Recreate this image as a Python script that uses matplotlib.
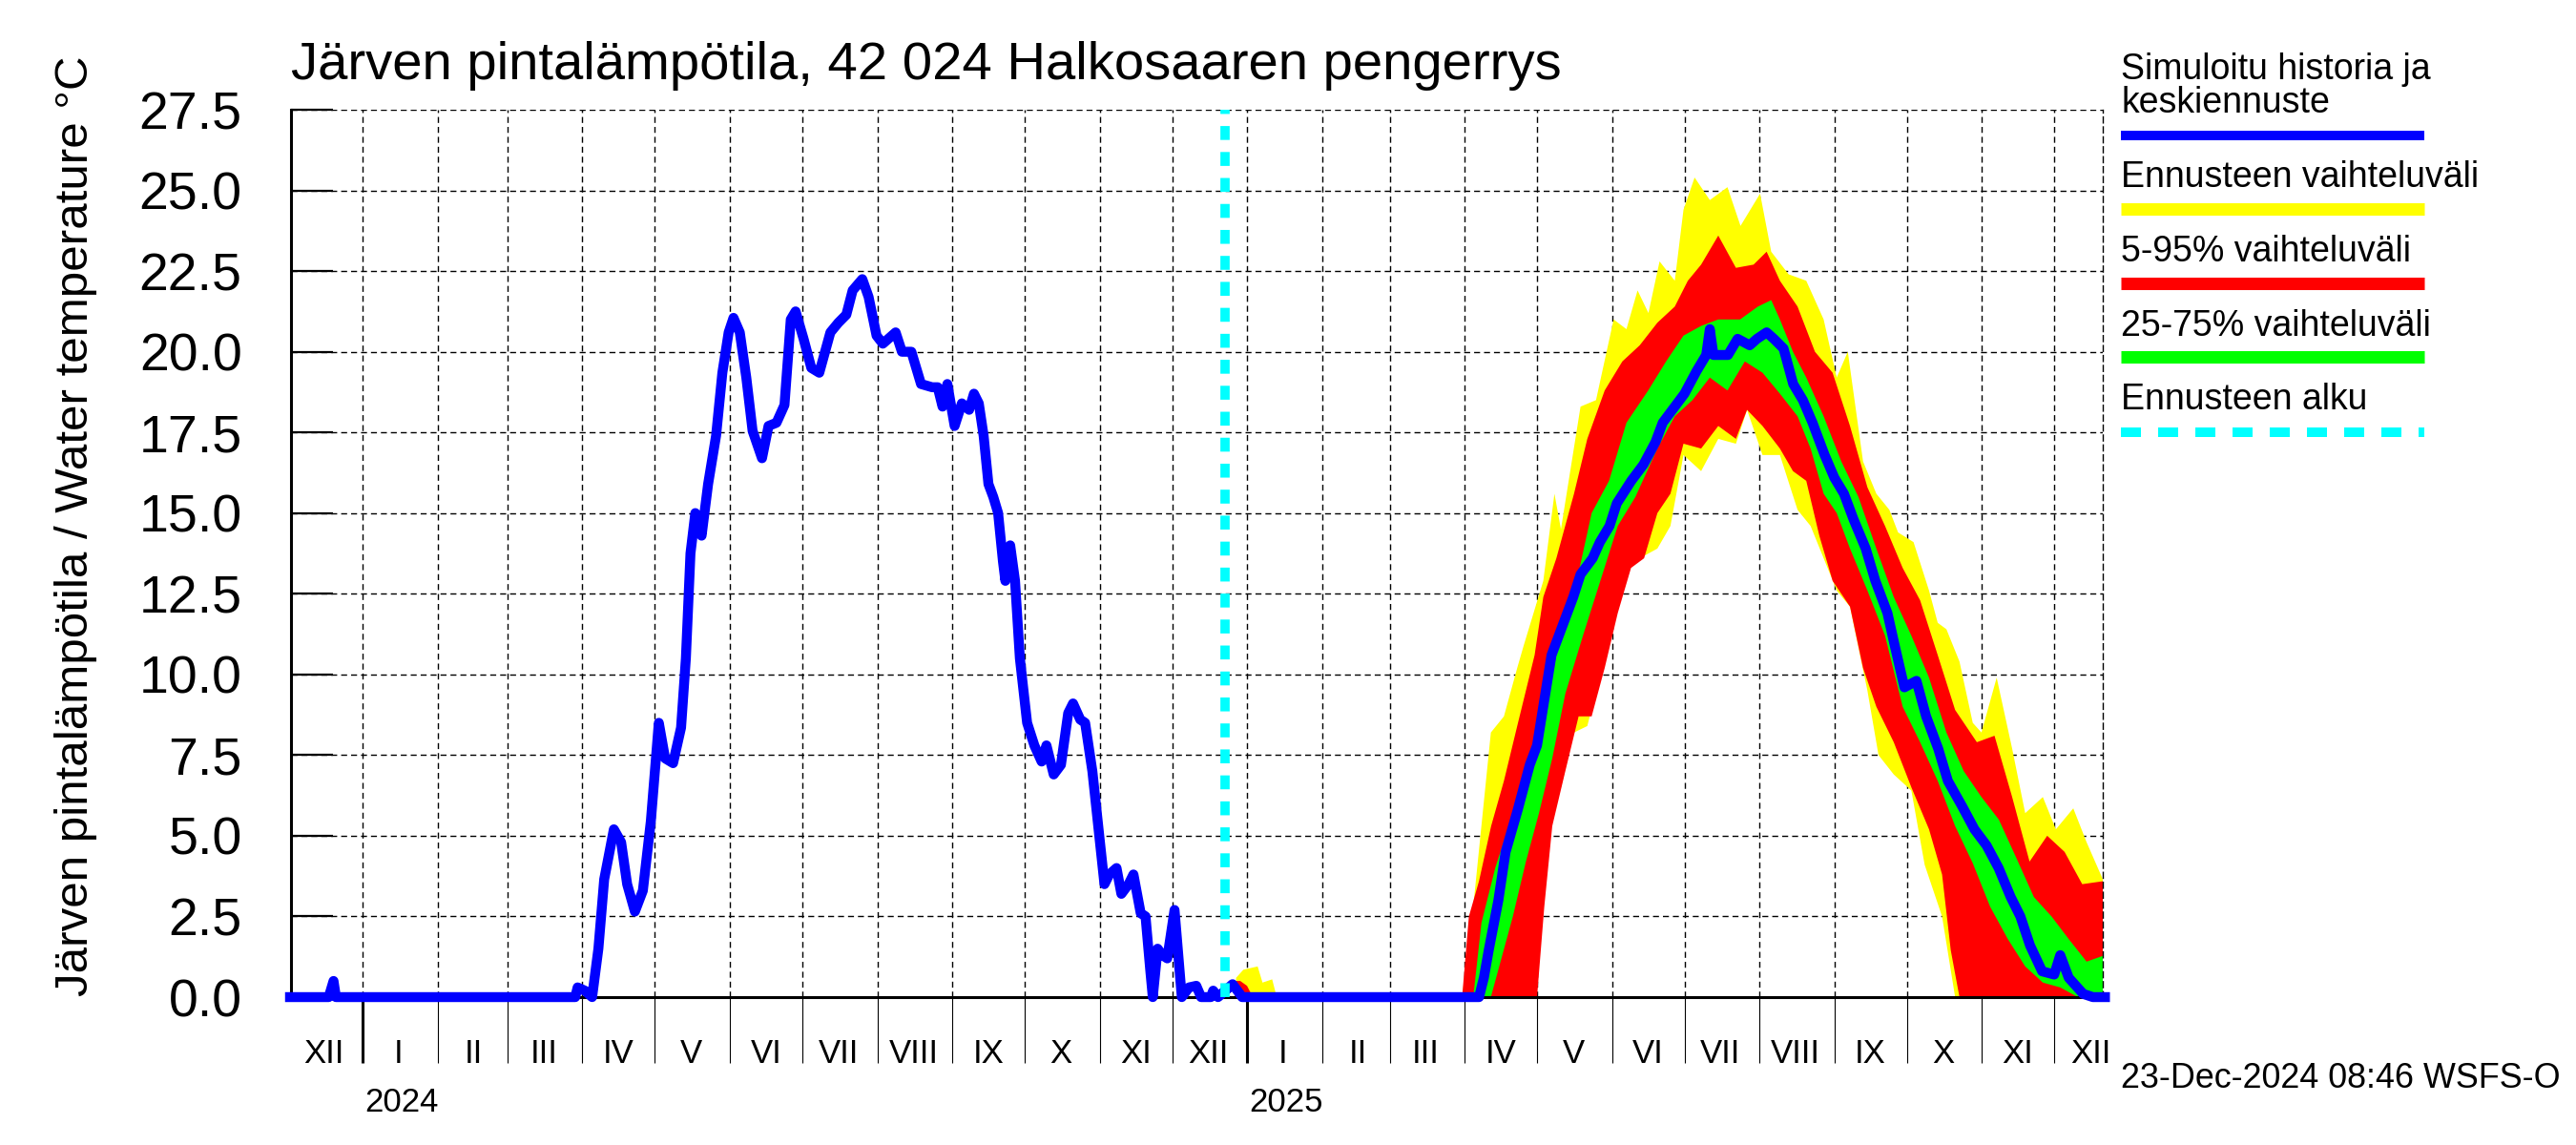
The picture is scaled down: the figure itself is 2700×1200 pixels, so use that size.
import numpy as np
import matplotlib
matplotlib.use("Agg")
import matplotlib.pyplot as plt
from matplotlib.lines import Line2D
from matplotlib.ticker import FormatStrFormatter

plt.rcParams['font.family'] = ['Liberation Sans', 'DejaVu Sans']

# simulated history, days since 2024-01-01
hist_day = [-30, -14, -12, -11, 88, 89, 92, 95, 97.6, 100, 104, 107, 109.5, 112.7, 116, 119.3,
            122.6, 125.2, 128.5, 131.8, 133.8, 135.7, 137.7, 140.3, 143, 146.3, 148.9, 151.5, 153.5,
            156.1, 158.8, 161.4, 165.3, 168, 171.3, 174.6, 177.2, 179.2, 182.5, 185.7, 189, 193.6,
            196.9, 200.2, 202.8, 206.8, 209.4, 212.7, 215.3, 220.6, 223.2, 227.1, 231.1, 235.7,
            238, 240, 242, 245, 248, 251, 253, 255, 257, 259, 261, 263, 265, 266, 268, 270,
            272, 275, 278, 281, 283, 286, 289, 292, 294, 297, 299, 302, 305, 307, 309, 312, 314,
            317, 319, 322, 324, 326, 327, 329, 331, 333, 336, 339, 342, 345, 347, 351, 352, 354,
            357]
hist_val = [0, 0, 0.5, 0, 0, 0.3, 0.2, 0, 1.5, 3.65, 5.2, 4.8, 3.5, 2.65, 3.3, 5.45,
            8.5, 7.4, 7.25, 8.35, 10.5, 13.75, 15.0, 14.3, 15.9, 17.4, 19.35, 20.6, 21.05,
            20.6, 19.2, 17.55, 16.7, 17.7, 17.8, 18.35, 21.0, 21.25, 20.4, 19.5, 19.35, 20.6,
            20.9, 21.15, 21.9, 22.25, 21.7, 20.5, 20.25, 20.6, 20.0, 20.0, 19.0, 18.9,
            18.9, 18.3, 19.0, 17.7, 18.4, 18.2, 18.7, 18.4, 17.4, 15.9, 15.5, 15.0, 13.5, 12.9, 14.0, 12.9,
            10.5, 8.5, 7.8, 7.3, 7.8, 6.9, 7.2, 8.8, 9.1, 8.6, 8.5, 7.0, 4.9, 3.5, 3.8, 4.0, 3.2,
            3.5, 3.8, 2.6, 2.5, 0.8, 0, 1.5, 1.3, 1.2, 2.7, 0, 0.3, 0.35, 0, 0, 0.2, 0,
            0.2]

# forecast median, days since 2025-01-01
fc_day = [-9, -6, -4, -2, 96, 98, 100, 104, 107, 112, 117, 120, 123, 126, 131, 135, 138, 143, 146,
          150, 153, 159, 164, 169, 172, 177, 181, 186, 190, 191.5, 193, 199, 203, 208, 211, 215, 218,
          222, 226, 230, 234, 239, 243, 247, 251, 256, 260, 265, 268, 272, 277, 281, 286, 290, 296,
          301, 306, 311, 316, 320, 324, 329, 334, 336.5, 340, 346, 350, 355]
fc_mid = [0.2, 0.4, 0.2, 0, 0, 0.6, 1.45, 3.0, 4.5, 5.8, 7.2, 7.8, 9.2, 10.6, 11.6, 12.4, 13.1, 13.6, 14.1,
          14.6, 15.3, 16.0, 16.5, 17.2, 17.8, 18.3, 18.7, 19.4, 19.9, 20.7, 19.9, 19.9, 20.4, 20.2, 20.4, 20.6, 20.4,
          20.1, 19.0, 18.5, 17.8, 16.8, 16.1, 15.6, 14.8, 13.9, 12.9, 11.9, 10.9, 9.6, 9.8, 8.7, 7.7, 6.7, 5.9,
          5.2, 4.7, 4.0, 3.1, 2.5, 1.6, 0.8, 0.7, 1.3, 0.6, 0.1, 0, 0]

# full forecast range (yellow)
yel_up_day = [-5, -4.5, -1.5, 4.4, 6.4, 10.4, 12.3, 89, 93.6, 100.9, 106.3, 111.8, 114.5, 122.6, 127.2,
              129.9, 138, 144.4, 151.7, 157, 161.6, 166.1, 170.7, 177, 180.6, 185.2, 191.5, 198.8, 204.2,
              212.3, 216.9, 224.1, 231.4, 238.6, 244, 248.6, 254.9, 260.4, 265.8, 269.4, 275.8, 282.2,
              285.8, 289.4, 294.8, 300.3, 303.9, 310.2, 316.6, 322, 329.3, 334.7, 341.9, 347.4, 355]
yel_up_val = [0, 0.6, 0.85, 0.95, 0.45, 0.55, 0, 0, 2.8, 8.2, 8.7, 10.2, 10.9, 12.9, 15.6,
              14.5, 18.3, 18.5, 21.0, 20.7, 21.9, 21.2, 22.8, 22.2, 24.4, 25.4, 24.7, 25.1, 23.9,
              24.9, 23.1, 22.4, 22.2, 21.0, 19.2, 20.0, 16.6, 15.6, 15.1, 14.4, 14.1, 12.6,
              11.6, 11.4, 10.4, 8.5, 8.2, 9.9, 7.7, 5.7, 6.2, 5.2, 5.85, 4.8, 3.5]
yel_lo_day = [-5, 119, 122, 126.3, 129.9, 135.3, 140.8, 146.2, 155.3, 162.5, 169.8, 175.2, 180.6, 187.9,
              195, 202.3, 206.9, 213.3, 220.5, 227.8, 233.2, 238.6, 244, 249.5, 256.7, 261.3, 267.6,
              274.9, 280.4, 287.6, 293, 355]
yel_lo_val = [0, 0, 2.8, 6.2, 6.5, 8.2, 8.4, 10.0, 13.3, 13.6, 13.9, 14.6, 16.8, 16.3,
              17.3, 17.15, 18.2, 16.8, 16.8, 15.1, 14.6, 13.6, 12.6, 12.1, 9.5, 7.5, 6.9,
              6.4, 4.1, 2.5, 0, 0]

# 5-95 % range (red)
red_up_day = [-5, -4.5, -2.8, 0, 2.4, 89, 91.8, 96, 101, 106.3, 111.8, 119, 122.6, 128, 135.3, 140.8,
              148, 155.3, 162.5, 169.8, 177, 182.4, 187.9, 195, 202.3, 209.6, 215, 220.5, 227.8, 235,
              242.3, 249.5, 256.7, 264, 271.3, 278.5, 285.8, 293, 302, 309.3, 316.6, 323.8, 331.1,
              338.3, 345.6, 355]
red_up_val = [0, 0.5, 0.5, 0.35, 0, 0, 2.5, 3.6, 5.3, 6.7, 8.4, 10.6, 12.4, 13.6, 15.6, 17.3,
              18.8, 19.7, 20.2, 20.9, 21.4, 22.2, 22.7, 23.6, 22.6, 22.7, 23.1, 22.2, 21.4, 20.0,
              19.35, 17.7, 15.8, 14.6, 13.3, 12.3, 10.6, 8.9, 7.9, 8.1, 6.2, 4.2, 5.0,
              4.5, 3.5, 3.6]
red_lo_day = [-5, 120, 123, 126.3, 131.7, 137.2, 142.6, 148, 153.4, 158.9, 164.3, 169.8, 175.2, 180.6,
              187.9, 195, 202.3, 206.9, 213.3, 220.5, 225.9, 231.4, 236.8, 242.3, 249.5, 254.9, 260.4,
              267.6, 274.9, 282.2, 287.6, 291.2, 294.8, 355]
red_lo_val = [0, 0, 2.8, 5.3, 7.0, 8.7, 8.7, 10.2, 11.9, 13.3, 13.6, 15.0, 15.6, 17.15,
              17.0, 17.7, 17.3, 18.2, 17.7, 17.0, 16.3, 16.0, 14.3, 12.9, 12.1, 10.2, 9.0,
              7.9, 6.5, 5.2, 3.8, 1.45, 0, 0]

# 25-75 % range (green)
grn_up_day = [93.6, 97, 102.7, 110, 115.4, 122.6, 128, 133.5, 142.6, 149.8, 157, 166, 173.4, 180.6,
              187.9, 195, 204, 211.4, 216.9, 220.5, 225.9, 231.4, 238.6, 245.9, 253, 260.4, 267.6,
              274.9, 282.2, 289.4, 296.6, 303.9, 311.1, 318.4, 325.6, 332.9, 340, 347.4, 355]
grn_up_val = [0, 2.3, 4.0, 5.7, 6.85, 8.5, 10.6, 11.9, 15.0, 16.0, 17.8, 18.8, 19.7, 20.5,
              20.8, 21.0, 21.0, 21.4, 21.6, 21.0, 20.0, 19.2, 18.0, 16.6, 15.5, 13.9, 12.4,
              11.2, 9.9, 8.2, 7.0, 6.2, 5.5, 4.3, 3.1, 2.5, 1.8, 1.1, 1.3]
grn_lo_day = [93.6, 100.9, 110, 115.4, 120.8, 126.3, 131.7, 139, 146.2, 153.4, 160.7, 169.8, 177, 184.3,
              191.5, 198.8, 206, 213.3, 220.5, 227.8, 233.2, 238.6, 244, 249.5, 256.7, 264, 271.3,
              278.5, 285.8, 293, 300.3, 307.5, 314.8, 322, 329.3, 336.5, 343.8, 355]
grn_lo_val = [0, 0, 2.5, 4.2, 5.7, 7.4, 9.4, 11.2, 12.9, 14.6, 15.5, 17.0, 18.0, 18.5,
              19.2, 18.8, 19.7, 19.35, 18.7, 18.0, 17.0, 15.6, 15.0, 13.9, 12.6, 11.2, 9.0,
              7.9, 6.7, 5.3, 4.15, 2.8, 1.8, 0.95, 0.45, 0.3, 0, 0]

roman = ['I', 'II', 'III', 'IV', 'V', 'VI', 'VII', 'VIII', 'IX', 'X', 'XI', 'XII']
y_ticks = [0, 2.5, 5, 7.5, 10, 12.5, 15, 17.5, 20, 22.5, 25, 27.5]

base24 = np.datetime64('2024-01-01T00:00')
base25 = np.datetime64('2025-01-01T00:00')
forecast_start = np.datetime64('2024-12-23T00:00')
x_start = base24 - np.timedelta64(int(29.6 * 1440), 'm')
x_end = base25 + np.timedelta64(int(354.1 * 1440), 'm')

GRID = dict(color='black', lw=1.0, ls=(0, (4.5, 3)))


def to_dates(base, days):
    return base + (np.asarray(days, float) * 1440).astype('timedelta64[m]')


def band(ax, up_d, up_v, lo_d, lo_v, color):
    xs = np.concatenate([to_dates(base25, up_d), to_dates(base25, lo_d)[::-1]])
    ys = np.concatenate([up_v, lo_v[::-1]])
    ax.fill(xs, ys, color=color, lw=0, zorder=2)


W, H = 2700, 1200
fig = plt.figure(figsize=(27, 12), dpi=100)
ax = fig.add_axes([305 / W, 155 / H, 1899 / W, 930 / H])

band(ax, yel_up_day, yel_up_val, yel_lo_day, yel_lo_val, '#ffff00')
band(ax, red_up_day, red_up_val, red_lo_day, red_lo_val, '#ff0000')
band(ax, grn_up_day, grn_up_val, grn_lo_day, grn_lo_val, '#00ff00')

ax.plot(to_dates(base24, hist_day), hist_val, color='#0000ff', lw=7.5, zorder=4, clip_on=False)
ax.plot(to_dates(base25, fc_day), fc_mid, color='#0000ff', lw=7.5, zorder=4, clip_on=False)
ax.axvline(forecast_start, color='#00ffff', lw=7, ls=(0, (1.5, 1.3)), zorder=5)

ax.set_xlim(x_start, x_end)
ax.set_ylim(0, 27.5)

# month ticks
months = np.arange('2023-12', '2026-01', dtype='datetime64[M]')
starts = months.astype('datetime64[D]')
mids = starts + np.timedelta64(15, 'D')
ax.set_xticks(starts[1:])
ax.set_xticklabels([])
ax.set_xticks(mids, minor=True)
ax.set_xticklabels([roman[int(str(m)[5:7]) - 1] for m in months], minor=True)
ax.tick_params(axis='x', which='major', direction='out', length=50, width=0.8)
ax.tick_params(axis='x', which='minor', length=0, pad=31, labelsize=25)
for t, s in zip(ax.xaxis.get_major_ticks(), starts[1:]):
    if str(s)[5:7] == '01':
        t.tick1line.set_markeredgewidth(2.2)

ax.set_yticks(y_ticks)
ax.yaxis.set_major_formatter(FormatStrFormatter('%.1f'))
ax.tick_params(axis='y', direction='in', length=32, width=1.6, pad=37, labelsize=40)

# grid: horizontal at y ticks, vertical at month starts
ax.xaxis.grid(False, which='both')
ax.yaxis.grid(True, which='major', **GRID)
for s in starts[1:]:
    ax.axvline(s, zorder=1, **GRID)

for side in ('left', 'bottom'):
    ax.spines[side].set_linewidth(2.2)
ax.spines['top'].set_visible(False)
ax.spines['right'].set_linewidth(1.0)
ax.spines['right'].set_linestyle((0, (4.5, 3)))

for yr, base in (('2024', base24), ('2025', base25)):
    ax.text(base + np.timedelta64(1, 'D'), -(1165 - 1045) / 930, yr, transform=ax.get_xaxis_transform(),
            ha='left', va='baseline', fontsize=25)

fig.text(305 / W, 1 - 83 / H, 'Järven pintalämpötila, 42 024 Halkosaaren pengerrys',
         ha='left', va='baseline', fontsize=40.5)
fig.text(80 / W, 1 - 551 / H, 'Järven pintalämpötila / Water temperature °C',
         rotation=90, ha='center', va='center', fontsize=35.5)

# legend at the right
lx0, lx1 = 2223 / W, 2541 / W
legend_items = [
    ('Simuloitu historia ja', 83, None),
    ('keskiennuste', 118, dict(color='#0000ff', lw=7.2, y=142)),
    ('Ennusteen vaihteluväli', 196, dict(color='#ffff00', lw=9.4, y=219)),
    ('5-95% vaihteluväli', 274, dict(color='#ff0000', lw=9.4, y=297)),
    ('25-75% vaihteluväli', 352, dict(color='#00ff00', lw=9.4, y=374)),
    ('Ennusteen alku', 429, dict(color='#00ffff', lw=7.2, y=453, ls=(0, (2.1, 1.8)))),
]
for label, yb, line in legend_items:
    fig.text(lx0, 1 - yb / H, label, ha='left', va='baseline', fontsize=27)
    if line:
        yy = 1 - line['y'] / H
        fig.add_artist(Line2D([lx0, lx1], [yy, yy], transform=fig.transFigure, color=line['color'],
                              lw=line['lw'], ls=line.get('ls', '-'), solid_capstyle='butt',
                              dash_capstyle='butt'))

fig.text(2223 / W, 1 - 1140 / H, '23-Dec-2024 08:46 WSFS-O', ha='left', va='baseline', fontsize=25.8)

fig.savefig('out.png', dpi=100)
